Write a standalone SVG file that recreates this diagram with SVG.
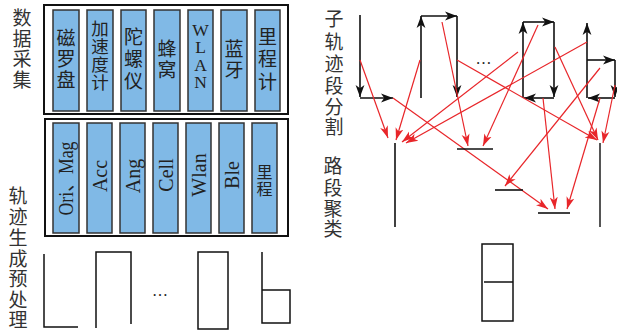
<svg xmlns="http://www.w3.org/2000/svg" width="617" height="334" viewBox="0 0 617 334">
<style>
.lbl{font-family:"Noto Sans CJK SC",sans-serif;font-size:19px;fill:#333;text-anchor:middle;dominant-baseline:central}
.cn{font-family:"Noto Sans CJK SC",sans-serif;font-size:19px;fill:#222;text-anchor:middle;dominant-baseline:central}
.en{font-family:"Liberation Serif","Noto Sans CJK SC",serif;font-size:20px;fill:#222;text-anchor:middle;dominant-baseline:central}
.outer{fill:#fff;stroke:#111;stroke-width:2}
.blue{fill:#80b9e6;stroke:#333;stroke-width:1.5}
.shape{fill:none;stroke:#111;stroke-width:1.5}
.traj{fill:none;stroke:#111;stroke-width:1.6;marker-end:url(#ab)}
.red{fill:none;stroke:#e8262a;stroke-width:1.2;marker-end:url(#ar)}
.road{fill:none;stroke:#111;stroke-width:1.6}
</style>
<defs>
<marker id="ab" markerUnits="userSpaceOnUse" markerWidth="13" markerHeight="10" refX="12" refY="5" orient="auto">
<path d="M0,0.6 L12,5 L0,9.4 L3.2,5 z" fill="#111"/>
</marker>
<marker id="ar" markerUnits="userSpaceOnUse" markerWidth="13" markerHeight="10" refX="12" refY="5" orient="auto">
<path d="M0,1 L12,5 L0,9 L3.2,5 z" fill="#e8262a"/>
</marker>
</defs>
<rect width="617" height="334" fill="#fff"/>

<g id="label-collect">
<text class="lbl"><tspan x="22" y="16">数</tspan><tspan x="22" y="36.5">据</tspan><tspan x="22" y="57">采</tspan><tspan x="22" y="77.5">集</tspan></text>
</g>
<g id="label-preprocess">
<text class="lbl"><tspan x="18" y="194">轨</tspan><tspan x="18" y="215">迹</tspan><tspan x="18" y="236">生</tspan><tspan x="18" y="256.5">成</tspan><tspan x="18" y="277">预</tspan><tspan x="18" y="297.5">处</tspan><tspan x="18" y="318">理</tspan></text>
</g>
<g id="label-split">
<text class="lbl"><tspan x="334" y="17">子</tspan><tspan x="334" y="39.5">轨</tspan><tspan x="334" y="61.5">迹</tspan><tspan x="334" y="83.5">段</tspan><tspan x="334" y="104.5">分</tspan><tspan x="334" y="124.5">割</tspan></text>
</g>
<g id="label-cluster">
<text class="lbl"><tspan x="333" y="164">路</tspan><tspan x="333" y="186">段</tspan><tspan x="333" y="206.5">聚</tspan><tspan x="333" y="226.5">类</tspan></text>
</g>

<g id="sensors">
<rect class="outer" x="44" y="5" width="244" height="109"/>
<g id="s-mag"><rect class="blue" x="53" y="10" width="26" height="101"/>
<text class="cn"><tspan x="66" y="36">磁</tspan><tspan x="66" y="57">罗</tspan><tspan x="66" y="77.5">盘</tspan></text></g>
<g id="s-acc"><rect class="blue" x="87" y="10" width="26" height="101"/>
<text class="cn" style="font-size:17.5px"><tspan x="100" y="26.5">加</tspan><tspan x="100" y="44.5">速</tspan><tspan x="100" y="62.5">度</tspan><tspan x="100" y="80.5">计</tspan></text></g>
<g id="s-gyro"><rect class="blue" x="121" y="10" width="25" height="101"/>
<text class="cn"><tspan x="133.5" y="35">陀</tspan><tspan x="133.5" y="57">螺</tspan><tspan x="133.5" y="79">仪</tspan></text></g>
<g id="s-cell"><rect class="blue" x="154" y="10" width="26" height="101"/>
<text class="cn"><tspan x="167" y="47">蜂</tspan><tspan x="167" y="68">窝</tspan></text></g>
<g id="s-wlan"><rect class="blue" x="188" y="10" width="25" height="101"/>
<text class="en" style="font-size:17.5px"><tspan x="200.5" y="29.5">W</tspan><tspan x="200.5" y="47">L</tspan><tspan x="200.5" y="64.5">A</tspan><tspan x="200.5" y="82">N</tspan></text></g>
<g id="s-ble"><rect class="blue" x="221" y="10" width="26" height="101"/>
<text class="cn"><tspan x="234" y="47">蓝</tspan><tspan x="234" y="67.5">牙</tspan></text></g>
<g id="s-odo"><rect class="blue" x="255" y="10" width="25" height="101"/>
<text class="cn"><tspan x="267.5" y="35">里</tspan><tspan x="267.5" y="57">程</tspan><tspan x="267.5" y="80">计</tspan></text></g>
</g>

<g id="features">
<rect class="outer" x="45" y="119" width="243" height="117"/>
<g id="f-orimag"><rect class="blue" x="53" y="123" width="26" height="110"/>
<text class="en" transform="translate(66,178.5) rotate(-90)" textLength="74" lengthAdjust="spacingAndGlyphs">Ori、Mag</text></g>
<g id="f-acc"><rect class="blue" x="87" y="123" width="25" height="110"/>
<text class="en" transform="translate(99.5,176) rotate(-90)">Acc</text></g>
<g id="f-ang"><rect class="blue" x="120" y="123" width="25" height="110"/>
<text class="en" transform="translate(132.5,176) rotate(-90)">Ang</text></g>
<g id="f-cell"><rect class="blue" x="153" y="123" width="25" height="110"/>
<text class="en" transform="translate(165.5,175) rotate(-90)">Cell</text></g>
<g id="f-wlan"><rect class="blue" x="186" y="123" width="25" height="110"/>
<text class="en" transform="translate(198.5,175) rotate(-90)">Wlan</text></g>
<g id="f-ble"><rect class="blue" x="219" y="123" width="25" height="110"/>
<text class="en" transform="translate(231.5,175) rotate(-90)">Ble</text></g>
<g id="f-odo"><rect class="blue" x="252" y="123" width="25" height="110"/>
<text class="cn" style="font-size:16px"><tspan x="264.5" y="171">里</tspan><tspan x="264.5" y="187.5">程</tspan></text></g>
</g>

<g id="trajectories">
<path class="shape" d="M44,254 V327 H78"/>
<path class="shape" d="M96,328 V252 H131 V324"/>
<text x="160" y="296" style="font-family:'Liberation Serif',serif;font-size:16px;fill:#222;text-anchor:middle">…</text>
<rect class="shape" x="198" y="252" width="30" height="77"/>
<path class="shape" d="M262,252 V323 H290 V290 H262"/>
</g>

<g id="subsegments">
<text x="483.5" y="64" style="font-family:'Liberation Serif',serif;font-size:16px;fill:#222;text-anchor:middle">…</text>
</g>

<g id="connectors">
<line class="traj" x1="360" y1="15" x2="360" y2="97"/>
<line class="traj" x1="360" y1="98" x2="393" y2="98"/>
<line class="traj" x1="421" y1="98" x2="421" y2="16"/>
<line class="traj" x1="421" y1="16" x2="457" y2="16"/>
<line class="traj" x1="457" y1="16" x2="457" y2="97"/>
<line class="traj" x1="523" y1="98" x2="523" y2="22"/>
<line class="traj" x1="523" y1="22" x2="554" y2="22"/>
<line class="traj" x1="554" y1="22" x2="554" y2="97"/>
<line class="traj" x1="554" y1="98" x2="524" y2="98"/>
<line class="traj" x1="587" y1="98" x2="587" y2="23"/>
<line class="traj" x1="587" y1="60" x2="615" y2="60"/>
<line class="traj" x1="615" y1="60" x2="615" y2="97"/>
<line class="traj" x1="615" y1="98" x2="588" y2="98"/>

<line class="red" x1="360" y1="60" x2="388" y2="138"/>
<line class="red" x1="420" y1="60" x2="396" y2="140"/>
<line class="red" x1="518" y1="52" x2="402" y2="142"/>
<line class="red" x1="587" y1="42" x2="406" y2="143"/>
<line class="red" x1="442" y1="22" x2="468" y2="146"/>
<line class="red" x1="538" y1="25" x2="483" y2="146"/>
<line class="red" x1="600" y1="68" x2="505" y2="186"/>
<line class="red" x1="393" y1="98" x2="548" y2="209"/>
<line class="red" x1="543" y1="98" x2="555" y2="209"/>
<line class="red" x1="600" y1="98" x2="567" y2="209"/>
<line class="red" x1="457" y1="60" x2="597" y2="140"/>
<line class="red" x1="555" y1="47" x2="598" y2="140"/>
<line class="red" x1="615" y1="85" x2="603" y2="143"/>
</g>

<g id="roads">
<line class="road" x1="395" y1="143" x2="395" y2="227"/>
<line class="road" x1="457" y1="149" x2="493" y2="149"/>
<line class="road" x1="495" y1="190" x2="523" y2="190"/>
<line class="road" x1="538" y1="213" x2="570" y2="213"/>
<line x1="600" y1="143" x2="600" y2="227" stroke="#555" stroke-width="2"/>
</g>

<g id="road-map">
<rect class="shape" x="482" y="244" width="31" height="77"/>
<line class="shape" x1="484" y1="282" x2="513" y2="282"/>
</g>
</svg>
